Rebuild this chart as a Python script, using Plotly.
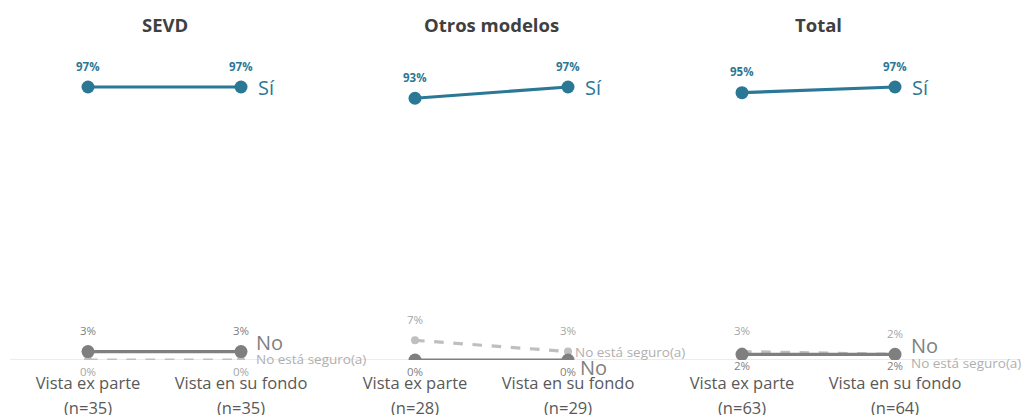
import plotly.graph_objects as go

# ---------------- data ----------------
panels = ["SEVD", "Otros modelos", "Total"]
categories = ["Vista ex parte", "Vista en su fondo"]
n_values = [[35, 35], [28, 29], [63, 64]]
si_values = [[97, 97], [93, 97], [95, 97]]
no_values = [[3, 3], [0, 0], [2, 2]]
ns_values = [[0, 0], [7, 3], [3, 2]]
series_names = ["Sí", "No", "No está seguro(a)"]

# ---------------- styles ----------------
W, H = 1021, 415
FONT = "Open Sans"
C_SI = "#2b7896"
C_NO = "#7f7f7f"
C_NS = "#bfbfbf"
C_AXIS = "#d9d9d9"
C_TICK = "#595959"
C_TITLE = "#404040"

panel_centers_px = [164.5, 491.5, 818.5]
half_w_px = 153
y0_px, y100_px = 360, 78.56


def yfrac(screen_y):
    return (H - screen_y) / H


# value-label placement: +1 above, -1 below (per panel, per series)
label_side = {
    "Sí": [1, 1, 1],
    "No": [1, -1, -1],
    "No está seguro(a)": [-1, 1, 1],
}
# end-label horizontal offsets (px) relative to last point
end_dx = {
    "Sí": [15, 15, 15],
    "No": [13, 10, 14],
    "No está seguro(a)": [13, 5, 14],
}
# end-label vertical centres (px)
end_y_px = {
    "No": [342, 367, 345],
    "No está seguro(a)": [359, 352, 363],
}

fig = go.Figure()
layout_axes = {}
annotations = []

for i, pname in enumerate(panels):
    xa = "x" if i == 0 else f"x{i+1}"
    ya = "y" if i == 0 else f"y{i+1}"
    xkey = "xaxis" if i == 0 else f"xaxis{i+1}"
    ykey = "yaxis" if i == 0 else f"yaxis{i+1}"
    xs = [f"{c} (n={n})" for c, n in zip(categories, n_values[i])]

    series = [
        ("Sí", si_values[i], C_SI, "solid", 13, 3.2),
        ("No", no_values[i], C_NO, "solid", 13, 3.2),
        ("No está seguro(a)", ns_values[i], C_NS, "dash", 8, 3.2),
    ]
    for name, vals, col, dash, msize, lw in [series[2], series[1], series[0]]:
        fig.add_trace(go.Scatter(
            x=xs, y=vals, mode="lines+markers", name=name,
            line=dict(color=col, width=lw, dash=dash),
            marker=dict(color=col, size=msize),
            xaxis=xa, yaxis=ya, showlegend=False, hoverinfo="skip",
        ))

    for name, vals, col, dash, msize, lw in series:
        side = label_side[name][i]
        if name == "Sí":
            lab_col, txt_fmt = C_SI, "<b>{}%</b>"
        elif name == "No":
            lab_col, txt_fmt = C_NO, "{}%"
        else:
            lab_col, txt_fmt = "#a6a6a6", "{}%"
        for xv, v in zip(xs, vals):
            annotations.append(dict(
                x=xv, y=v, xref=xa, yref=ya, text=txt_fmt.format(v), showarrow=False,
                font=dict(family=FONT, size=11.5, color=lab_col),
                xanchor="center", yanchor="middle",
                yshift=21 if side > 0 else -11,
            ))
        dx = end_dx[name][i]
        if name == "Sí":
            annotations.append(dict(
                x=xs[-1], y=vals[-1], xref=xa, yref=ya, text=name,
                showarrow=False, xanchor="left", yanchor="middle", xshift=dx,
                font=dict(family=FONT, size=20, color=C_SI),
            ))
        else:
            size = 20 if name == "No" else 13.5
            colr = "#7f7f7f" if name == "No" else "#b0b0b0"
            annotations.append(dict(
                x=xs[-1], y=yfrac(end_y_px[name][i]), xref=xa, yref="paper", text=name,
                showarrow=False, xanchor="left", yanchor="middle", xshift=dx,
                font=dict(family=FONT, size=size, color=colr),
            ))

    # sample-size line under each category tick label
    for xv, n in zip(xs, n_values[i]):
        annotations.append(dict(
            x=xv, y=yfrac(407), xref=xa, yref="paper", text=f"(n={n})",
            showarrow=False, xanchor="center", yanchor="middle",
            font=dict(family=FONT, size=16.5, color=C_TICK),
        ))

    c = panel_centers_px[i]
    layout_axes[xkey] = dict(
        domain=[(c - half_w_px) / W, (c + half_w_px) / W],
        type="category", range=[-0.5, 1.5], showgrid=False, zeroline=False,
        showline=False, ticks="", automargin=False, ticklabelstandoff=11,
        tickmode="array", tickvals=xs, ticktext=categories,
        tickfont=dict(family=FONT, size=16.5, color=C_TICK),
        anchor=ya,
    )
    layout_axes[ykey] = dict(
        domain=[(H - y0_px) / H, (H - y100_px) / H], range=[0, 100],
        showgrid=False, zeroline=False, showline=False, showticklabels=False,
        automargin=False, anchor=xa,
    )
    annotations.append(dict(
        x=c / W, y=yfrac(25), xref="paper", yref="paper", text=f"<b>{pname}</b>",
        showarrow=False, xanchor="center", yanchor="middle",
        font=dict(family=FONT, size=18.5, color=C_TITLE),
    ))

fig.update_layout(
    width=W, height=H, margin=dict(l=0, r=0, t=0, b=0),
    paper_bgcolor="white", plot_bgcolor="white",
    annotations=annotations,
    shapes=[dict(type="line", xref="paper", yref="y", x0=10 / W, x1=1.0, y0=0, y1=0,
                 line=dict(color=C_AXIS, width=1.2), layer="below")],
    **layout_axes,
)

fig.write_html(
    "out.html",
    config={"displayModeBar": False},
    post_script="document.body.style.margin='0px';document.body.style.overflow='hidden';",
)
